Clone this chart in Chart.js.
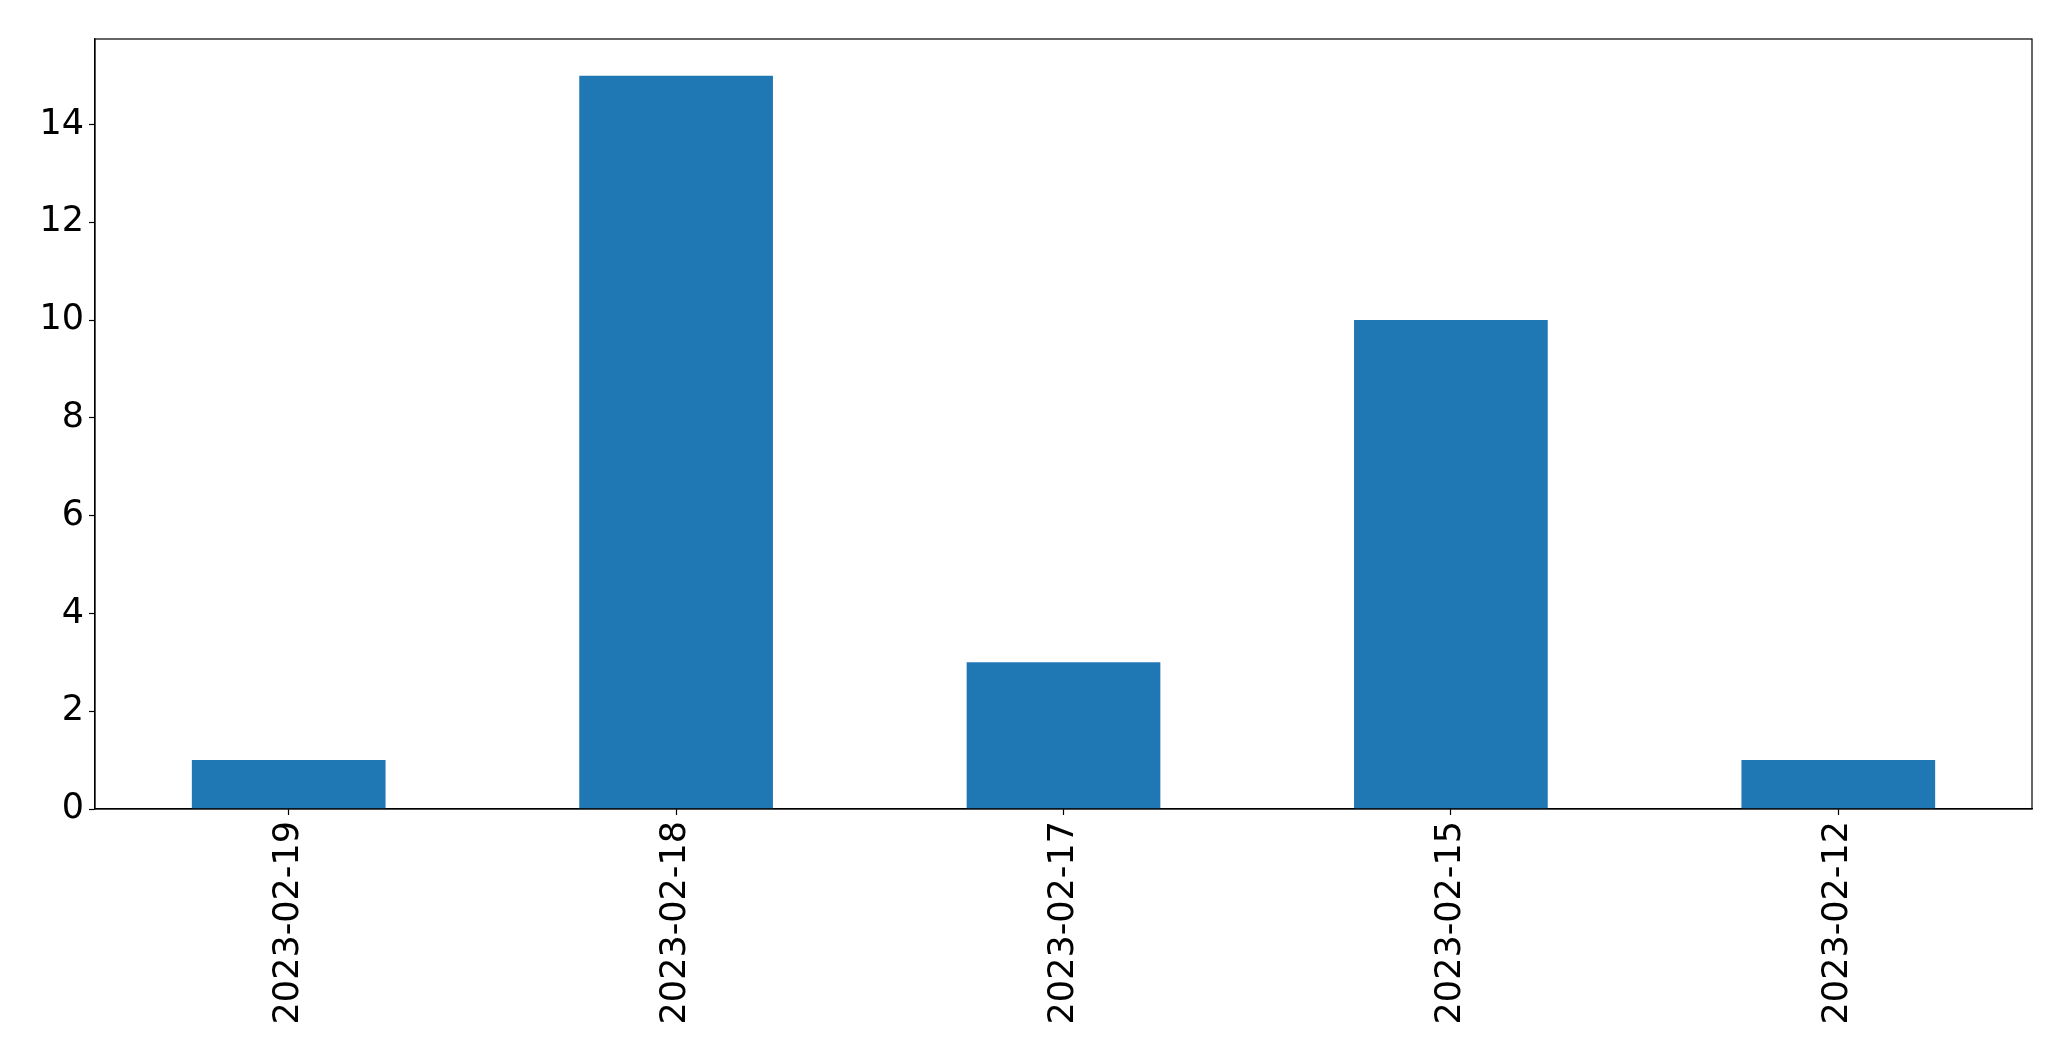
<!DOCTYPE html>
<html>
<head>
<meta charset="utf-8">
<script src="https://cdn.jsdelivr.net/npm/chart.js@4"></script>
<style>
  body { margin: 0; background: #fff; }
</style>
</head>
<body>
<canvas id="chart" width="2071" height="1061"></canvas>
<script>
// data
const dates = ["2023-02-19", "2023-02-18", "2023-02-17", "2023-02-15", "2023-02-12"];
const counts = [1, 15, 3, 10, 1];
const yMax = 15.75;

// box around the plot area (top and right edges)
const frame = {
  id: "frame",
  afterDraw(chart) {
    const a = chart.chartArea;
    const ctx = chart.ctx;
    ctx.save();
    ctx.strokeStyle = "#000";
    ctx.lineWidth = 1.2;
    ctx.strokeRect(a.left, a.top, a.right - a.left, a.bottom - a.top);
    ctx.restore();
  }
};

const fontMain = { family: "DejaVu Sans", size: 35 };

new Chart(document.getElementById("chart").getContext("2d"), {
  type: "bar",
  data: {
    labels: dates,
    datasets: [{
      data: counts,
      backgroundColor: "#1f77b4",
      borderWidth: 0,
      categoryPercentage: 1,
      barPercentage: 0.5
    }]
  },
  options: {
    responsive: false,
    animation: false,
    layout: { padding: { top: 39, right: 39, left: 0, bottom: 0 } },
    plugins: { legend: { display: false }, tooltip: { enabled: false } },
    scales: {
      x: {
        grid: { display: true, offset: false, drawOnChartArea: false, tickLength: 6, tickColor: "#000", tickWidth: 1.2 },
        border: { color: "#000", width: 1.2 },
        ticks: { color: "#000", font: fontMain, minRotation: 90, maxRotation: 90, padding: 6 },
        afterFit(scale) { scale.height = 252; }
      },
      y: {
        min: 0,
        max: yMax,
        grid: { display: true, drawOnChartArea: false, tickLength: 6, tickColor: "#000", tickWidth: 1.2 },
        border: { color: "#000", width: 1.2 },
        ticks: { color: "#000", font: fontMain, stepSize: 2, padding: 5 },
        afterBuildTicks(scale) {
          scale.ticks = scale.ticks.filter(t => t.value % 2 === 0);
        },
        afterFit(scale) { scale.width = 95; }
      }
    }
  },
  plugins: [frame]
});
</script>
</body>
</html>
